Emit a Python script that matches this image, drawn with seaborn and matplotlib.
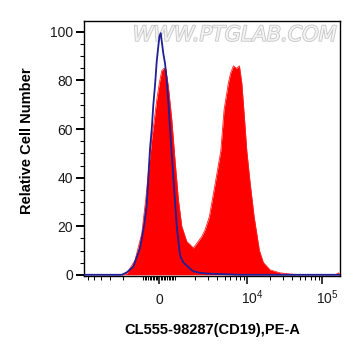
import seaborn as sns
import matplotlib.pyplot as plt
import matplotlib.patheffects as pe
from matplotlib.ticker import FixedLocator, FixedFormatter, MultipleLocator
from matplotlib.transforms import ScaledTranslation

# CD19 stained sample (red, filled)
cd19_x = [-6700, -2200, -1800, -1400, -1090, -840, -630, -460, -315, -145, 20, 170,
          315, 420, 588, 803, 1011, 1212, 1345, 1568, 1790, 1920, 2200, 2490, 2750,
          3140, 3630, 4460, 4930, 5630, 6020, 6560, 7190, 7890, 8490, 9190, 9900,
          10950, 12380, 14570, 16480, 20240, 27500, 37400, 50800, 150000, 165000, 173000]
cd19_y = [0, 0, 0.5, 6, 17, 31, 45, 56, 63, 72, 79, 84,
          85, 85, 77.5, 64, 47, 31, 20, 13.7, 12, 11, 13.5, 15.8, 18.5,
          24, 35, 51, 68, 79, 83, 86, 85, 86, 79, 65, 51,
          38, 24, 10, 5, 2, 0.8, 0.3, 0, 0, 0.8, 0]

# isotype control (blue line)
ctrl_x = [-6700, -2100, -1800, -1475, -1200, -950, -777, -569, -461, -360, -253, -145,
          19, 107, 272, 379, 487, 588, 695, 904, 1119, 1212, 1277, 1414, 1736, 1921,
          2360, 2900, 4360, 8000, 173000]
ctrl_y = [0, 0, 1, 3.4, 11, 20, 29, 52, 60, 70, 78, 88,
          98, 99.5, 91, 87, 80, 71, 60, 40, 20, 14, 8, 5, 2.5, 1.4,
          0.8, 0.5, 0.3, 0, 0]

major_ticks = [0, 1e4, 1e5]
major_labels = ["0", "$10^4$", "$10^5$"]
minor_ticks = ([-6000, -5000, -4000, -3000, -2000] + list(range(-1000, 1001, 100))
               + list(range(2000, 10000, 1000)) + list(range(20000, 100000, 10000)))

sns.set_style("ticks")
plt.rcParams["font.family"] = ["Liberation Sans", "DejaVu Sans"]
plt.rcParams["mathtext.default"] = "regular"

fig = plt.figure(figsize=(3.61, 3.56), dpi=100)
ax = fig.add_axes([84 / 361, 1 - 276 / 356, 256 / 361, 255 / 356])

ax.fill_between(cd19_x, cd19_y, color="#ff0000", lw=0, zorder=1)
sns.lineplot(x=cd19_x, y=cd19_y, color="#ff2020", lw=0.6, ax=ax, zorder=2)
sns.lineplot(x=ctrl_x, y=ctrl_y, color="#1f1f96", lw=1.3, ax=ax, zorder=3)

ax.set_xscale("symlog", linthresh=1200, linscale=0.228)
ax.set_xlim(-6700, 173000)
ax.set_ylim(-0.5, 104.5)

ax.xaxis.set_major_locator(FixedLocator(major_ticks))
ax.xaxis.set_major_formatter(FixedFormatter(major_labels))
ax.xaxis.set_minor_locator(FixedLocator(minor_ticks))
ax.yaxis.set_major_locator(MultipleLocator(20))
ax.yaxis.set_minor_locator(MultipleLocator(5))

for s in ax.spines.values():
    s.set_linewidth(1.0)
    s.set_color("black")

ax.tick_params(axis="y", which="major", length=5.5, width=1.4, pad=2.5,
               labelsize=10, labelcolor="#1a1a1a", color="black")
ax.tick_params(axis="y", which="minor", length=3, width=0.8, color="black")
ax.tick_params(axis="x", which="major", length=6, width=1.1, pad=14,
               labelsize=10, labelcolor="#1a1a1a", color="black")
ax.tick_params(axis="x", which="minor", length=3, width=0.7, color="black")

shift = ScaledTranslation(5 / 100, 0, fig.dpi_scale_trans)
for i, tick in enumerate(ax.xaxis.get_major_ticks()):
    tick.label1.set_va("baseline")
    if i > 0:
        tick.label1.set_transform(tick.label1.get_transform() + shift)

ax.set_xlabel("CL555-98287(CD19),PE-A", fontsize=10.5, fontweight="bold",
              va="center", ha="center", color="black")
ax.set_ylabel("Relative Cell Number", fontsize=10.5, fontweight="bold",
              va="center", ha="center", color="black")
ax.xaxis.set_label_coords(0.503, -0.212)
ax.yaxis.set_label_coords(-0.223, 0.53)

ax.text(0.988, 0.985, "WWW.PTGLAB.COM", transform=ax.transAxes, ha="right", va="top",
        fontsize=15, family="DejaVu Sans", style="italic", color="#f4f4f4",
        path_effects=[pe.withStroke(linewidth=1.2, foreground="#c4c4c4")], zorder=0)

fig.savefig("out.png", dpi=100)
